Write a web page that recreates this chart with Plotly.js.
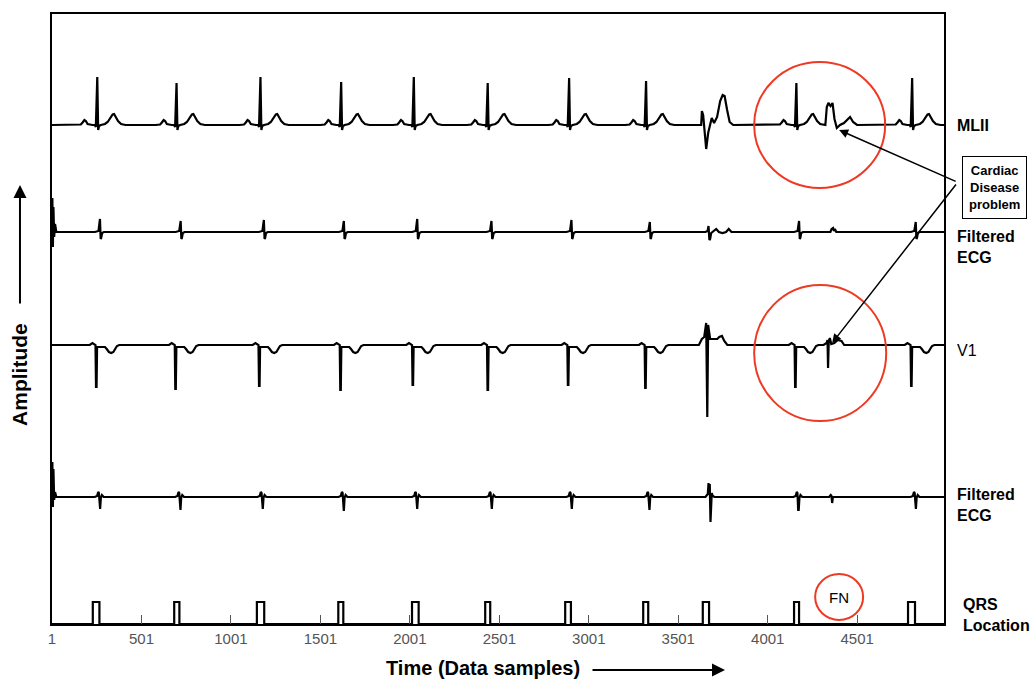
<!DOCTYPE html>
<html>
<head>
<meta charset="utf-8">
<script src="https://cdn.plot.ly/plotly-3.0.1.min.js"></script>
<style>
  html, body { margin: 0; padding: 0; background: #ffffff; }
  #chart { width: 1035px; height: 679px; }
</style>
</head>
<body>
<div id="chart"></div>
<script>
// ---------------- DATA ----------------
const sampleTicks = [1, 501, 1001, 1501, 2001, 2501, 3001, 3501, 4001, 4501];
const sampleTickText = ["1", "501", "1001", "1501", "2001", "2501", "3001", "3501", "4001", "4501"];
const lastSample = 4986;

// channel names (right side labels)
const channelLabels = ["MLII", "Filtered<br>ECG", "V1", "Filtered<br>ECG", "QRS<br>Location"];
// vertical offsets of every channel (amplitude units)
const channelOffsets = [499, 392, 279, 127, 0];

// ---- MLII ----
const mliiBeats   = [252, 695, 1164, 1615, 2021, 2434, 2889, 3319, 4159, 4806];
const mliiRHeight = [48, 42, 48, 43, 48, 42, 47, 44, 42, 47];
const mliiBeatDx  = [-115, -90, -80, -70, -62, -52, -25, -12, -6, -2, 2, 7, 12, 22, 45, 60, 75, 88, 96, 106, 118, 135, 160];
const mliiBeatDy  = [0, 0.5, 2.5, 5, 4, 1, 0, 0, -2, null, null, -5, -1, 0, 1, 3, 7, 10.5, 11, 8, 4, 1, 0];
const mliiPvcAt   = 3651;
const mliiPvcDx   = [-40, -22, -18, -11, 6, 17, 37, 50, 67, 84, 98, 109, 123, 137, 157];
const mliiPvcDy   = [0, 0, 14, 10, -24, -8, 7, 2, 8, 24, 30, 29, 15, 3, 0];
const mliiOddAt   = 4353;
const mliiOddDx   = [-30, -22, -13, -1, 10, 21, 34, 52, 74, 108, 125, 147];
const mliiOddDy   = [0, 18, 22, 19, 22, 6, -3, 0, 2, 8, 3, 0];

// ---- Filtered ECG (1) ----
const f1Beats    = [271, 722, 1187, 1634, 2044, 2459, 2906, 3344, 4178, 4830];
const f1Height   = [13, 11, 12, 11, 13, 11, 12, 10, 11, 10];
const f1BeatDx   = [-30, -10, -5, -2, 2, 5, 10, 20, 35];
const f1BeatDy   = [0, 1, null, null, -7, -6, -1, 0, 0];
const f1StartDx  = [1, 3, 6, 9, 13, 18, 25];
const f1StartDy  = [-40, 34, -15, 25, -5, 8, 0];
const f1PvcAt    = 3673;
const f1PvcDx    = [-20, -8, -3, 2, 6, 12, 20, 40, 55, 75, 95, 110, 125];
const f1PvcDy    = [0, 1, 6, -8, -7, -1, 0, 3, 0, -1, 0, 3, 0];
const f1OddAt    = 4366;
const f1OddDx    = [-15, -8, 0, 5, 10, 18];
const f1OddDy    = [0, 3, 4, 1, 3, 0];

// ---- V1 ----
const v1Beats    = [247, 690, 1158, 1612, 2016, 2435, 2884, 3316, 4154, 4802];
const v1Depth    = [42, 44, 41, 45, 40, 45, 40, 43, 42, 41];
const v1BeatDx   = [-60, -35, -20, -8, -3, 0, 3, 6, 24, 50, 60, 72, 85, 97, 107, 117, 130];
const v1BeatDy   = [0, 0, 2, 1, 0, null, null, -2, -2, -2, -4, -7, -8, -7, -4, -1, 0];
const v1PvcAt    = 3661;
const v1PvcDx    = [-45, -28, -15, -4, 2, 7, 18, 58, 69, 84, 97, 114];
const v1PvcDy    = [0, 6, 8, 22, -72, 20, 6, 6, 8, 9, 4, 0];
const v1OddAt    = 4338;
const v1OddDx    = [-25, -8, -3, 0, 4, 10, 18, 35, 55, 75, 90];
const v1OddDy    = [0, 2, 5, -23, 4, 7, 1, 2, 5, 4, 0];

// ---- Filtered ECG (2) ----
const f2Beats    = [265, 714, 1174, 1627, 2037, 2454, 2901, 3335, 4169, 4824];
const f2Depth    = [12, 13, 12, 14, 12, 12, 12, 13, 13, 12];
const f2BeatDx   = [-25, -12, -6, -2, 2, 5, 9, 15, 25];
const f2BeatDy   = [0, 1, 5, 4, null, null, -1, 2, 0];
const f2StartDx  = [1, 3, 6, 9, 13, 18, 25];
const f2StartDy  = [-40, 35, -10, 28, -3, 5, 0];
const f2PvcAt    = 3678;
const f2PvcDx    = [-25, -12, -8, -5, -1, 3, 6, 10, 16, 25];
const f2PvcDy    = [0, 3, 14, 6, 13, -25, -5, 4, 1, 0];
const f2OddAt    = 4359;
const f2OddDx    = [-15, -6, -2, 2, 6, 15];
const f2OddDy    = [0, 2, 1, -6, 0, 0];

// ---- QRS location pulses ----
const qrsStart   = [229, 684, 1146, 1601, 2013, 2422, 2869, 3305, 3638, 4148, 4785];
const qrsEnd     = [266, 713, 1187, 1629, 2050, 2450, 2901, 3333, 3673, 4176, 4824];
const qrsLevel   = 22;

// ---------------- BUILD TRACES ----------------
function placeShape(points, at, dx, dy, peak) {
  for (let i = 0; i < dx.length; i++) {
    points.push([at + dx[i], dy[i] === null ? peak : dy[i]]);
  }
}
function finish(points, offset) {
  points.push([1, 0]);
  points.push([lastSample, 0]);
  points.sort((a, b) => a[0] - b[0]);
  return { x: points.map(p => p[0]), y: points.map(p => p[1] + offset) };
}

const mliiPts = [];
mliiBeats.forEach((b, i) => placeShape(mliiPts, b, mliiBeatDx, mliiBeatDy, mliiRHeight[i]));
placeShape(mliiPts, mliiPvcAt, mliiPvcDx, mliiPvcDy);
placeShape(mliiPts, mliiOddAt, mliiOddDx, mliiOddDy);
const mlii = finish(mliiPts, channelOffsets[0]);

const f1Pts = [];
placeShape(f1Pts, 0, f1StartDx, f1StartDy);
f1Beats.forEach((b, i) => placeShape(f1Pts, b, f1BeatDx, f1BeatDy, f1Height[i]));
placeShape(f1Pts, f1PvcAt, f1PvcDx, f1PvcDy);
placeShape(f1Pts, f1OddAt, f1OddDx, f1OddDy);
const f1 = finish(f1Pts.filter(p => p[0] > 1), channelOffsets[1]);

const v1Pts = [];
v1Beats.forEach((b, i) => placeShape(v1Pts, b, v1BeatDx, v1BeatDy, -v1Depth[i]));
placeShape(v1Pts, v1PvcAt, v1PvcDx, v1PvcDy);
placeShape(v1Pts, v1OddAt, v1OddDx, v1OddDy);
const v1 = finish(v1Pts, channelOffsets[2]);

const f2Pts = [];
placeShape(f2Pts, 0, f2StartDx, f2StartDy);
f2Beats.forEach((b, i) => placeShape(f2Pts, b, f2BeatDx, f2BeatDy, -f2Depth[i]));
placeShape(f2Pts, f2PvcAt, f2PvcDx, f2PvcDy);
placeShape(f2Pts, f2OddAt, f2OddDx, f2OddDy);
const f2 = finish(f2Pts.filter(p => p[0] > 1), channelOffsets[3]);

const qrsPts = [];
qrsStart.forEach((s, i) => {
  qrsPts.push([s, 0], [s, qrsLevel], [qrsEnd[i], qrsLevel], [qrsEnd[i], 0]);
});
const qrs = { x: [1], y: [channelOffsets[4]] };
qrsPts.forEach(p => { qrs.x.push(p[0]); qrs.y.push(p[1] + channelOffsets[4]); });
qrs.x.push(lastSample); qrs.y.push(channelOffsets[4]);

const lineStyle = { color: '#000000', width: 2.2 };
const traces = [mlii, f1, v1, f2, qrs].map(s => ({
  type: 'scatter', mode: 'lines', x: s.x, y: s.y,
  line: lineStyle, hoverinfo: 'skip', showlegend: false
}));

// ---------------- LAYOUT ----------------
const FONT = 'Liberation Sans, Arial, Helvetica, sans-serif';
const red = '#ee3a22';

const annotations = [];
const labelY = [499, 377.5, 274, 119, 9];
channelLabels.forEach((t, i) => {
  annotations.push({
    xref: 'paper', yref: 'y', x: i === 4 ? 1.019 : 1.0123, y: labelY[i],
    xanchor: 'left', yanchor: 'middle', align: 'left', showarrow: false,
    text: i === 2 ? t : '<b>' + t + '</b>',
    font: { family: FONT, size: 16, color: '#000' }
  });
});
// axis titles with arrows
annotations.push({
  xref: 'paper', yref: 'paper', x: 0.4832, y: -0.0721, xanchor: 'center', yanchor: 'middle',
  showarrow: false, text: '<b>Time (Data samples)</b>', font: { family: FONT, size: 20, color: '#000' }
});
annotations.push({
  xref: 'paper', yref: 'paper', x: 0.7545, y: -0.0754, ax: -134, ay: 0, text: '',
  showarrow: true, arrowhead: 2, arrowsize: 1.3, arrowwidth: 2, arrowcolor: '#000'
});
annotations.push({
  xref: 'paper', yref: 'paper', x: -0.0359, y: 0.41, xanchor: 'center', yanchor: 'middle',
  textangle: -90, showarrow: false, text: '<b>Amplitude</b>', font: { family: FONT, size: 21, color: '#000' }
});
annotations.push({
  xref: 'paper', yref: 'paper', x: -0.0359, y: 0.7197, ax: 0, ay: 120, text: '',
  showarrow: true, arrowhead: 2, arrowsize: 1.3, arrowwidth: 2, arrowcolor: '#000'
});
// callout box
annotations.push({
  xref: 'paper', yref: 'paper', x: 1.0566, y: 0.7156, xanchor: 'center', yanchor: 'middle',
  showarrow: false, text: '<b>Cardiac<br>Disease<br>problem</b>',
  font: { family: FONT, size: 13, color: '#000' },
  bordercolor: '#000', borderwidth: 1, borderpad: 6, bgcolor: '#fff'
});
// callout arrows
annotations.push({
  xref: 'x', yref: 'y', x: 4400, y: 494, ax: 118, ay: 52, text: '',
  showarrow: true, arrowhead: 2, arrowsize: 1.2, arrowwidth: 1.5, arrowcolor: '#000'
});
annotations.push({
  xref: 'x', yref: 'y', x: 4361, y: 281, ax: 125, ay: -160, text: '',
  showarrow: true, arrowhead: 2, arrowsize: 1.2, arrowwidth: 1.5, arrowcolor: '#000'
});
// FN text
annotations.push({
  xref: 'x', yref: 'y', x: 4400, y: 27, xanchor: 'center', yanchor: 'middle',
  showarrow: false, text: 'FN', font: { family: FONT, size: 15, color: '#000' }
});

const shapes = [
  { type: 'circle', xref: 'x', yref: 'y', x0: 3925, x1: 4657, y0: 436, y1: 562, line: { color: red, width: 2 } },
  { type: 'circle', xref: 'x', yref: 'y', x0: 3925, x1: 4663, y0: 203, y1: 339, line: { color: red, width: 2 } },
  { type: 'circle', xref: 'x', yref: 'y', x0: 4266, x1: 4534, y0: 4, y1: 50, line: { color: red, width: 2 } }
];

const layout = {
  width: 1035, height: 679,
  margin: { l: 52, r: 91, t: 14, b: 55, pad: 0 },
  paper_bgcolor: '#fff', plot_bgcolor: '#fff',
  showlegend: false,
  xaxis: {
    range: [1, lastSample], tickmode: 'array', tickvals: sampleTicks, ticktext: sampleTickText,
    ticks: 'inside', ticklen: 9, tickwidth: 1, tickcolor: '#555',
    showline: true, linecolor: '#000', linewidth: 2, mirror: true,
    showgrid: false, zeroline: false,
    tickfont: { family: FONT, size: 15, color: '#555' }
  },
  yaxis: {
    range: [0, 610], showticklabels: false, ticks: '',
    showline: true, linecolor: '#000', linewidth: 2, mirror: true,
    showgrid: false, zeroline: false
  },
  annotations: annotations,
  shapes: shapes
};

Plotly.newPlot('chart', traces, layout, { staticPlot: true, displayModeBar: false });
</script>
</body>
</html>
